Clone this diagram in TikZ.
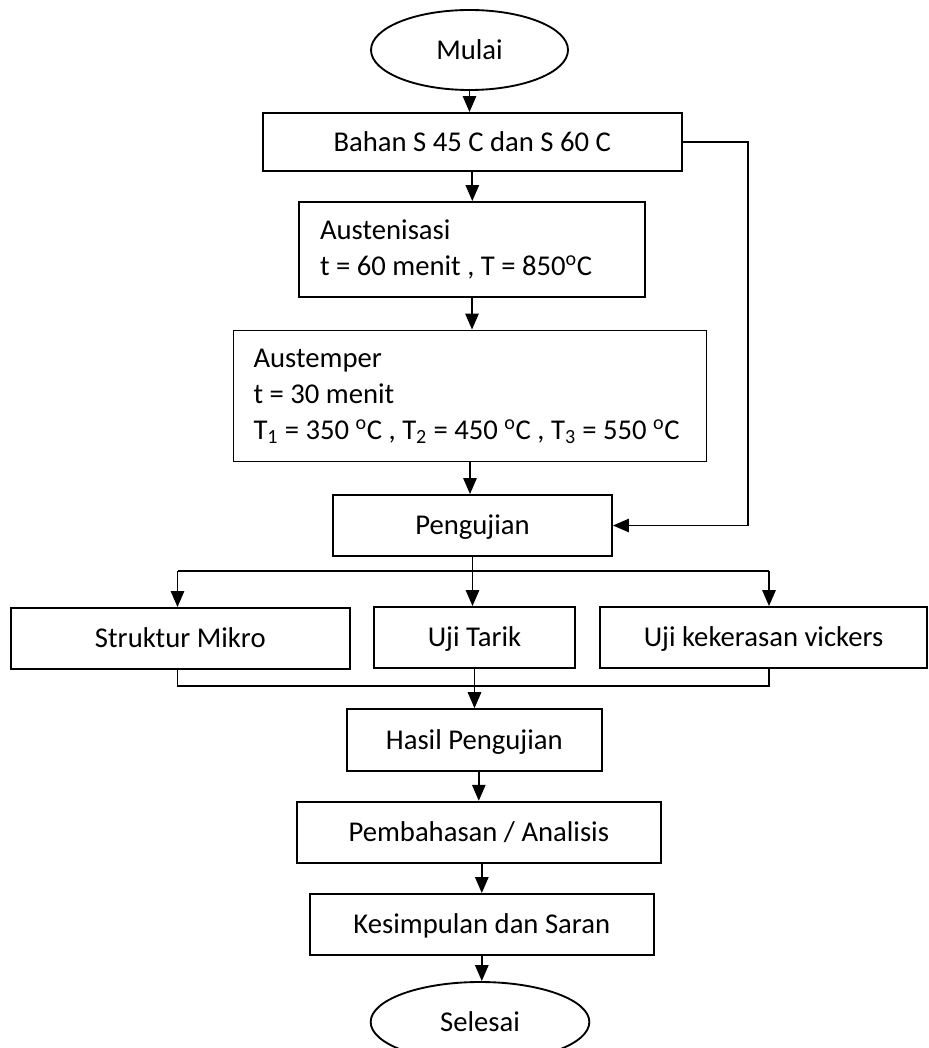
\documentclass[tikz,border=0pt]{standalone}
\usepackage{fontspec}
\setmainfont{Carlito}
\usetikzlibrary{shapes.geometric,arrows.meta}

\tikzset{every picture/.style={line width=1.4pt}}
\tikzset{
  every node/.style={font=\fontsize{21.5}{27}\selectfont},
  kotak/.style={draw, rectangle, inner sep=0pt, minimum height=45.75pt, text height=18.3pt, text depth=4.5pt},
  kotakteks/.style={draw, rectangle, inner sep=0pt, align=flush left},
  oval/.style={draw, ellipse, inner sep=0pt, minimum height=60pt, text height=18.3pt, text depth=4.5pt},
  panah/.style={-{Triangle[length=12pt,width=10pt]}}
}

\begin{document}
\begin{tikzpicture}[x=0.75pt,y=0.75pt,yscale=-1,xscale=1]
	\useasboundingbox (0,0) rectangle (928,1048);

	%Shape: Ellipse [id:mulai]
	\node [oval, minimum width=147.75pt] (mulai) at (469.5,50) {Mulai};
	%Shape: Rectangle [id:bahan]
	\node [kotak, minimum width=314.5pt, minimum height=43.5pt] (bahan) at (472.3,142) {Bahan S 45 C dan S 60 C};
	%Shape: Rectangle [id:austenisasi]
	\node [kotakteks, minimum width=259.5pt, minimum height=71.25pt, text width=228pt, inner xsep=15.75pt] (austenisasi) at (472,249.5) {Austenisasi\\t = 60 menit , T = 850\textsuperscript{o}C};
	%Shape: Rectangle [id:austemper]
	\node [kotakteks, minimum width=354.75pt, minimum height=98.25pt, text width=324.75pt, inner xsep=15pt] (austemper) at (470,396) {Austemper\\t = 30 menit\\T\textsubscript{1} = 350 \textsuperscript{o}C , T\textsubscript{2} = 450 \textsuperscript{o}C , T\textsubscript{3} = 550 \textsuperscript{o}C};
	%Shape: Rectangle [id:pengujian]
	\node [kotak, minimum width=209.25pt] (pengujian) at (472.5,525.5) {Pengujian};

	%Shape: Rectangle [id:struktur]
	\node [kotak, minimum width=254.5pt] (struktur) at (180.3,638.5) {Struktur Mikro};
	%Shape: Rectangle [id:tarik]
	\node [kotak, minimum width=150.75pt] (tarik) at (474.5,637.5) {Uji Tarik};
	%Shape: Rectangle [id:vickers]
	\node [kotak, minimum width=245.25pt] (vickers) at (763.5,637.5) {Uji kekerasan vickers};

	%Shape: Rectangle [id:hasil]
	\node [kotak, minimum width=191.5pt, minimum height=46.25pt] (hasil) at (474.3,740) {Hasil Pengujian};
	%Shape: Rectangle [id:bahas]
	\node [kotak, minimum width=272.75pt] (bahas) at (478.8,832.2) {Pembahasan / Analisis};
	%Shape: Rectangle [id:simpul]
	\node [kotak, minimum width=258.25pt] (simpul) at (481.8,924.5) {Kesimpulan dan Saran};
	%Shape: Ellipse [id:selesai]
	\node [oval, minimum width=164pt] (selesai) at (480,1022) {Selesai};

	% Helper points
	\coordinate (feed) at (747.7,142);
	\coordinate (split) at (472.5,571);
	\coordinate (bl) at (177.5,571);
	\coordinate (br) at (769,571);
	\coordinate (jl) at (177.5,686);
	\coordinate (jr) at (769,686);

	%Straight Lines
	\draw [panah] (mulai) -- (mulai |- bahan.north);
	\draw [panah] (bahan) -- (bahan |- austenisasi.north);
	\draw [panah] (austenisasi) -- (austenisasi |- austemper.north);
	\draw [panah] (austemper) -- (austemper |- pengujian.north);
	\draw [panah] (bahan.east) -- (feed) |- (pengujian.east);

	%Branch
	\draw (pengujian) -- (split);
	\draw (bl) -- (br);
	\draw [panah] (bl) -- (bl |- struktur.north);
	\draw [panah] (split) -- (split |- tarik.north);
	\draw [panah] (br) -- (br |- vickers.north);

	%Merge
	\draw (jl |- struktur.south) -- (jl) -- (jr) -- (jr |- vickers.south);
	\draw [panah] (tarik) -- (tarik |- hasil.north);

	\draw [panah] (bahas.north |- hasil.south) -- (bahas.north);
	\draw [panah] (simpul.north |- bahas.south) -- (simpul.north);
	\draw [panah] (simpul) -- (simpul |- selesai.north);

\end{tikzpicture}
\end{document}
